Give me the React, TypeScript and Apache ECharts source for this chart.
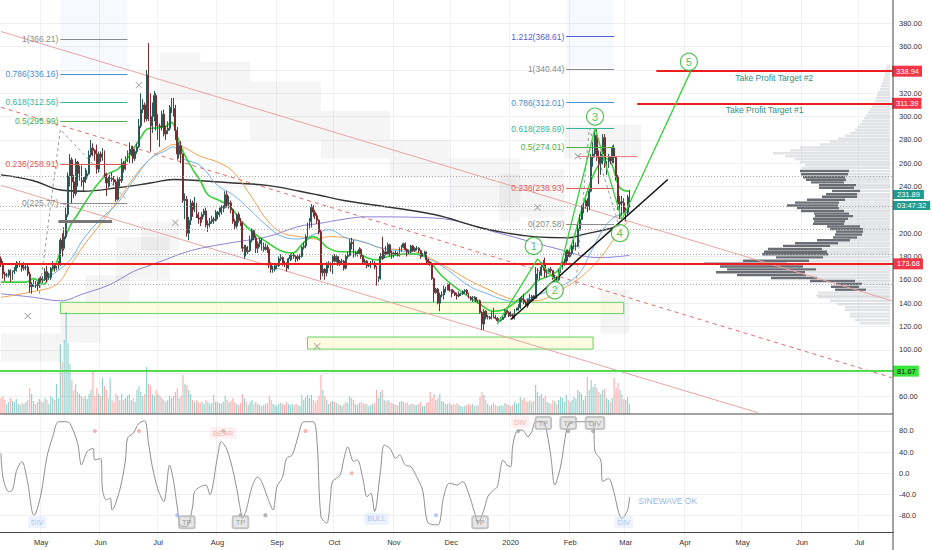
import React, { useEffect, useRef } from "react";
import * as echarts from "echarts";

const CHART_W = 932;
const CHART_H = 550;
const SCALE_W = 39; // width of the right price scale
const PANE_SPLIT = 414; // separator between price pane and oscillator
const FONT = "'Liberation Sans', Arial, sans-serif";

const MONTH_NAMES = ["Jan", "Feb", "Mar", "Apr", "May", "Jun", "Jul", "Aug", "Sep", "Oct", "Nov", "Dec"];

// ---- daily ETHUSD candles: [close, high, low, volume]; open = previous close
const firstOpen = 178;
const apr2019 = [[174,180,171,16],[165,176,161,18],[164,167,159,14],[164,166,162,10],[168,169,162,12],[161,169,158,16],[167,168,160,13],[168,171,165,12],[173,176,167,15],[173,175,170,10],[173,176,171,9],[170,174,167,11],[171,175,168,10],[171,174,168,12],[165,173,163,14],[154,167,149,26],[156,158,148,20],[157,160,154,13],[156,159,153,10],[155,158,151,12],[161,162,153,15]];
const may2019 = [[160,163,158,13],[160,163,157,12],[167,170,159,16],[162,172,158,14],[162,166,160,10],[170,171,160,18],[172,176,169,16],[170,173,167,14],[170,172,168,30],[173,176,169,16],[194,196,172,70],[187,200,180,52],[197,205,185,74],[216,222,195,102],[249,252,214,71],[263,268,240,50],[244,265,225,34],[234,250,230,24],[261,264,232,30],[251,262,240,22],[255,258,245,20],[245,258,240,18],[244,248,236,16],[248,256,243,18],[251,254,246,15],[267,271,250,20],[273,280,265,24],[271,277,266,44],[268,272,262,18],[255,276,251,26],[268,270,252,20]];
const jun2019 = [[265,270,261,18],[270,273,262,36],[251,271,248,28],[243,252,232,24],[247,249,239,16],[247,250,240,36],[246,252,244,14],[244,249,241,12],[229,246,227,20],[246,248,228,18],[245,248,240,14],[260,264,243,20],[255,262,252,14],[263,266,254,16],[268,271,261,18],[268,278,260,20],[272,275,266,14],[264,275,260,16],[270,272,262,12],[274,277,268,24],[292,298,273,28],[306,320,290,22],[310,315,303,18],[298,312,295,20],[336,340,296,47],[310,363,296,30],[292,320,270,28],[300,312,286,20],[318,322,296,18],[292,320,288,24]];
const jul2019 = [[292,302,280,20],[291,294,274,18],[302,305,288,16],[285,306,283,14],[288,292,280,12],[290,296,285,14],[308,310,288,18],[313,316,303,16],[307,316,300,18],[288,310,280,22],[268,291,263,26],[275,278,264,16],[268,279,260,18],[228,268,226,39],[229,234,212,30],[200,232,197,29],[211,214,194,24],[226,229,207,20],[220,228,214,14],[225,231,218,12],[216,226,213,14],[213,218,208,12],[212,214,206,11],[216,218,209,12],[219,221,214,10],[207,222,205,14],[208,211,201,12],[210,213,205,10],[212,215,208,11],[211,214,208,19],[218,220,210,12]];
const aug2019 = [[216,219,212,12],[218,222,214,11],[222,224,216,10],[222,224,218,12],[233,236,221,18],[225,236,222,14],[226,232,221,12],[220,228,217,13],[210,221,208,16],[206,212,203,12],[216,217,204,10],[211,218,209,9],[209,213,206,11],[187,210,184,20],[188,190,178,16],[184,190,180,12],[185,189,182,9],[194,198,184,12],[202,204,192,14],[196,203,194,10],[187,198,183,12],[191,193,183,10],[194,196,188,9],[190,196,185,8],[186,192,184,9],[188,191,185,10],[186,190,183,11],[173,188,170,18],[169,175,166,14],[169,172,166,10],[172,174,167,9]];
const sep2019 = [[172,174,169,8],[178,180,171,10],[179,182,176,11],[174,180,172,10],[173,176,171,9],[170,175,167,12],[178,179,169,10],[181,182,176,9],[181,183,177,10],[180,183,178,9],[178,181,175,10],[180,182,176,9],[180,182,177,8],[188,189,179,19],[189,192,186,14],[197,199,187,17],[207,209,196,19],[210,213,204,16],[222,225,205,19],[218,224,214,14],[215,220,212,12],[211,217,208,14],[201,212,199,18],[166,203,160,39],[169,173,163,24],[166,170,160,18],[174,175,163,14],[174,176,170,10],[170,175,167,12],[180,181,165,13]];
const oct2019 = [[176,182,175,12],[180,181,175,11],[174,180,172,10],[176,177,172,9],[176,178,173,8],[170,177,168,10],[180,182,169,12],[181,184,178,11],[192,195,180,18],[191,196,186,16],[181,194,179,14],[182,185,180,10],[183,185,180,9],[186,188,182,11],[180,187,178,12],[175,181,173,11],[176,178,174,10],[172,177,170,10],[173,174,171,8],[174,176,170,9],[174,177,173,10],[171,176,169,11],[161,172,155,24],[161,163,158,16],[180,183,160,22],[179,197,177,24],[184,186,178,14],[182,189,181,13],[190,192,181,14],[183,191,180,12],[182,185,178,11]];
const nov2019 = [[183,184,179,10],[182,185,181,9],[181,184,180,9],[185,188,180,12],[188,190,184,13],[191,192,187,12],[186,192,185,11],[184,187,180,12],[184,186,182,9],[189,190,183,10],[185,190,184,10],[187,188,184,9],[187,189,185,9],[185,188,183,10],[180,186,178,12],[182,183,180,8],[184,185,181,8],[177,184,174,11],[175,178,173,12],[174,176,172,22],[161,175,160,16],[149,162,141,20],[152,153,148,14],[140,153,139,16],[147,149,133,20],[147,150,145,13],[152,155,143,12],[151,154,149,10],[156,157,151,10],[151,157,150,11]];
const dec2019 = [[151,152,145,9],[149,152,148,10],[147,150,146,9],[146,149,143,11],[148,150,145,9],[148,149,146,8],[150,151,147,7],[151,152,148,8],[148,152,147,9],[145,149,144,10],[143,146,142,9],[145,146,141,10],[145,146,143,8],[142,145,141,8],[142,143,140,9],[132,143,131,17],[122,133,117,22],[133,135,117,19],[128,134,126,14],[128,130,126,10],[127,129,126,8],[132,133,126,9],[128,136,127,11],[127,130,126,9],[125,128,124,8],[125,127,124,8],[126,128,124,9],[128,129,126,8],[134,135,127,11],[132,135,130,10],[129,133,128,9]];
const jan2020 = [[130,133,128,8],[127,131,126,9],[134,135,126,12],[134,136,133,10],[136,139,134,11],[144,145,135,17],[143,146,141,14],[141,148,139,16],[138,142,137,13],[143,144,136,12],[142,148,141,14],[146,147,141,12],[144,147,142,13],[165,171,144,29],[166,170,160,22],[164,167,160,18],[171,175,163,20],[174,177,168,16],[167,179,162,18],[167,169,162,12],[169,170,165,11],[168,171,166,10],[162,168,160,14],[162,164,158,13],[160,163,158,10],[168,169,159,14],[170,172,166,17],[175,176,169,16],[175,178,172,12],[184,186,173,19],[180,186,176,14]];
const feb2020 = [[183,185,179,12],[189,190,181,14],[189,194,186,17],[189,192,185,15],[204,207,188,24],[212,216,202,22],[222,224,211,20],[223,226,217,14],[228,229,221,18],[223,230,218,37],[236,238,220,24],[265,268,235,34],[268,278,257,27],[284,290,265,30],[265,289,262,26],[260,271,242,22],[268,270,250,20],[282,285,259,24],[258,285,256,25],[258,262,250,16],[265,268,256,14],[262,266,259,12],[273,275,260,16],[265,276,260,36],[248,266,245,26],[225,250,220,31],[227,232,212,24],[226,232,215,20],[218,230,217,15]];
const mar2020 = [[218,222,210,14],[231,233,215,17],[231.89,237,222,10]];
const candleMonths = [apr2019, may2019, jun2019, jul2019, aug2019, sep2019, oct2019, nov2019, dec2019, jan2020, feb2020, mar2020];

// ---- moving averages, read as [dayIndex, price]
const maGreen = [[0,158],[13,158],[17,161],[22,156],[26,166],[29,175],[32,189],[36,206],[40,216],[45,229],[50,241],[55,250],[61,255],[66,264],[69,272],[73,282],[76,289],[79,290],[85,291],[89,295],[92,283],[95,270],[100,255],[104,245],[108,233],[114,228],[120,222],[125,211],[132,200],[139,192],[146,185],[152,183],[158,192],[163,197],[167,193],[170,188],[177,184],[184,184],[191,179],[196,177],[200,179],[210,182],[219,182],[224,175],[231,162],[241,149],[250,139],[257,133],[262,134],[267,139],[275,150],[280,159],[290,167],[297,187],[302,214],[306,236],[311,256],[316,264],[319,258],[323,239],[328,236]];
const maBlue = [[17,154],[35,175],[43,195],[52,212],[61,226],[69,245],[78,264],[85,270],[90,274],[95,264],[104,258],[113,241],[121,233],[130,220],[139,206],[147,197],[156,195],[165,200],[171,203],[180,196],[190,192],[199,187],[214,183],[228,174],[245,154],[254,148],[262,143],[270,141],[278,146],[290,153],[301,164],[307,181],[313,200],[318,211],[323,216],[328,218]];
const maOrange = [[0,145],[17,150],[29,156],[36,172],[43,189],[52,208],[61,228],[69,247],[78,264],[87,274],[90,276],[95,274],[104,266],[113,261],[121,253],[130,233],[139,211],[147,200],[156,197],[165,195],[171,197],[180,196],[190,192],[199,187],[214,185],[228,175],[245,159],[254,152],[262,146],[271,142],[278,142],[295,154],[309,172],[320,195],[327,210]];
const maPurple = [[0,148],[17,145],[31,142],[43,148],[57,156],[69,167],[78,172.5],[87,178],[95,183],[104,187],[121,192],[139,197],[156,206],[165,208],[179,212],[191,214],[226,213],[260,200],[287,188],[313,179],[328,181]];
const maBlack = [[0,250],[17,245],[31,237],[43,236],[61,239],[78,243],[90,246],[104,245],[121,243],[139,241],[156,236],[165,233],[179,228],[191,225],[226,216],[252,204],[278,197],[296,196],[304,199],[318,204],[323,207]];

// ---- drawings [dayIndex, price]
const channelUpper = [[0,373],[465,142]];
const channelMiddle = [[0,308],[465,76]];
const channelLower = [[0,241],[395,46]];
const trendLine = [[266,126],[348,246]];
const waveLine = [[259,122],[280,178],[290,158],[310,290],[324,211.5],[360,339]];
const waveLabels = [[278,189,"1"],[289,151,"2"],[310,300,"3"],[323,200,"4"],[359,347,"5"]];
const crossMarks = [[14,129],[72,327],[91,209],[165,103],[280,222],[301,266]];
const fibLeftConnector = [[20,148],[31,289],[66,228]];
const fibRightConnector = [[300,156],[307,290],[323,204]];
const fibLeft = { from: 31, to: 66, levels: [[1,366.21],[0.786,336.16],[0.618,312.56],[0.5,295.99],[0.236,258.91],[0,225.77]] };
const fibRight = { from: 295, to: 320, levels: [[1.212,368.61],[1,340.44],[0.786,312.01],[0.618,289.69],[0.5,274.01],[0.236,238.93],[0,207.58]] };
const supportLevel = 173.68;
const deepSupport = 81.67;
const takeProfits = [[332, 311.39, "Take Profit Target #1"], [342, 338.94, "Take Profit Target #2"]];
const lastPrice = 231.89;
const countdown = "03:47:32";
const dottedLevels = [248.6, 222.9, 203, 182.2, 156.6];
const shortRedLevel = [301, 332, 266];
const shortGrayLevel = [30, 58, 210];
const greenZones = [[31,325,140.7,131],[160,309,110.9,100.6]];
const cloudBoxes = [[83,104,355,314],[104,130,347,297],[130,167,330,280],[167,203,305,264],[203,234,280,247],[234,271,264,222],[271,294,255,214],[0,31,114,90],[31,52,139,106],[44,67,164,139],[60,88,197,160],[73,93,210,185],[313,328,152,114],[294,334,293,264],[260,271,251,210]];
const blueBands = [[31,66,400,338],[295,320,400,343]];
// axis labels hidden behind the coloured price boxes (as on the reference)
const coveredTicks = [340, 220, 80];

// ---- visible-range volume profile rows: [price, darkVolume, lightVolume]
const volumeProfile = [
  [343.5,0,3],[341,0,4],[338.5,0,5],[336,0,5],[333.5,0,6],[331,0,7],[328.5,0,8],[326,0,9],[323.5,0,10],[321,0,12],[318.5,0,13],[316,0,14],[313.5,0,15],[311,0,16],[308.5,0,18],[306,0,20],[303.5,0,22],[301,0,24],[298.5,0,26],[296,0,28],[293.5,0,30],[291,0,32],[288.5,0,35],[286,0,40],[283.5,0,45],[281,0,52],[278.5,0,60],[276,0,70],[273.5,0,90],[271,0,100],[268.5,0,117],[266,0,105],[263.5,0,95],[261,0,90],[258.5,0,85],[256,0,88],
  [253.3,49,41],[250.5,47,42],[248,42,45],[245.8,40,44],[243.6,33,46],[241.2,37,34],[238.9,35,36],[236.2,28,30],[233.4,31,33],[231.2,35,33],[228.7,38,45],[226.2,44,51],[223.7,51,52],[221.5,42,51],[219,43,46],[216.8,35,41],[214.6,38,37],[212.4,35,42],[210.1,31,45],[208,31,46],[205.7,33,30],[203.5,33,27],[201.3,27,27],[198.8,27,28],[196.3,24,33],[193.9,33,40],[191.4,43,52],[189.1,47,60],[186.4,54,68],[184.1,63,63],[181.9,66,62],[179.2,47,67],[176.4,66,81],[173.9,83,103],[171.4,83,87],[168.9,89,74],[166.5,89,85],[164,69,84],[161.5,46,73],[159,45,35],[156.5,26,28],[154,28,31],[151.5,31,24],
  [149,0,72],[146.5,0,74],[144.9,0,72],[142,0,60],[139.3,0,53],[136.5,0,45],[134,0,45],[131,0,40],[128.5,0,40],[125.5,0,35],[122.7,0,30]
];

// ---- oscillator (sine-wave style), read as [dayIndex, value]
const oscillator = [[0,38],[1,-7],[4,-35],[6,-32],[8,3],[10,19],[11,22],[14,-19],[17,-79],[18,-78],[21,-38],[24,31],[27,69],[30,97.6],[34,97.6],[36,94.5],[40,57],[42,15.5],[45,41],[48,47],[49,25],[52,28],[53,-32],[55,-51],[57,-47],[58,-70],[62,-32],[65,25],[66,66],[69,75.6],[72,94.5],[75,99.5],[77,57],[79,12],[82,-32],[85,-54],[88,15.5],[90,-13],[92,-64],[94,-101],[97,-101],[100,-64],[101,-35],[104,-26],[107,-22.5],[109,-41],[113,31],[115,60],[118,44],[121,6],[123,-29],[125,-70],[126,-86],[128,-70],[131,-26],[134,-7],[136,-16],[139,-45],[142,-70],[144,-26],[147,-7],[149,28],[152,34.5],[155,69],[158,97.6],[163,97.6],[165,57],[167,-83],[170,-95],[172,-45],[173,-16],[177,-3.5],[179,28],[181,50],[184,22],[186,25],[189,-13],[191,-45],[193,-38],[195,-73],[198,3],[200,53.5],[203,47],[206,28],[208,34.5],[211,15.5],[214,12],[217,-7],[220,-32],[223,-95],[228,-98],[231,-45],[234,-19],[238,-22.5],[241,-16],[244,-38],[247,-73],[249,-95],[252,-70],[254,-45],[257,-32],[259,-26],[262,25],[264,15.5],[266,12],[267,50],[269,78.7],[272,82],[275,69],[277,78.7],[279,97.6],[283,97.6],[285,75.6],[287,31],[289,-22.5],[292,12],[294,57],[296,91.4],[300,97.6],[309,97.6],[310,41],[313,25],[314,-16],[317,-10],[320,-38],[322,-70],[324,-86],[327,-70],[328,-45]];
const oscTags = [[19,-93,"DIV","blue"],[116,76,"BEAR","pink"],[196,-87,"BULL","blue"],[97,-93,"TP","gray"],[125,-93,"TP","gray"],[250,-93,"TP","gray"],[271,97,"DIV","pink"],[283,95,"TP","gray"],[296,95,"TP","gray"],[310,95,"DIV","gray"],[325,-93,"DIV","blue"],[348,-52,"SINEWAVE OK","text"]];
const oscDots = [[49,80,"pink"],[72,80,"pink"],[159,80,"pink"],[92,-80,"blue"],[227,-80,"blue"],[125,-80,"gray"],[138,-80,"gray"],[116,80,"gray"],[270,80,"gray"],[296,80,"gray"],[309,80,"gray"],[183,0,"pink"]];

// ---------------------------------------------------------------------------
const categories: string[] = [];
for (let t = Date.UTC(2019, 3, 10); t <= Date.UTC(2020, 6, 18); t += 86400000) {
  const d = new Date(t);
  categories.push(
    d.getUTCFullYear() + "-" + String(d.getUTCMonth() + 1).padStart(2, "0") + "-" + String(d.getUTCDate()).padStart(2, "0")
  );
}
const isMonthStart = (_i: number, v: string) => String(v).endsWith("-01");
const monthLabel = (v: string) => {
  const [y, m] = String(v).split("-");
  return m === "01" ? y : MONTH_NAMES[Number(m) - 1];
};

const FIB_COLORS: Record<string, string> = {
  "1.212": "#5a5ad8", "1": "#8b8b8b", "0.786": "#4a8fd0", "0.618": "#35b598",
  "0.5": "#4caf50", "0.236": "#e05a5a", "0": "#8b8b8b",
};
const TAG_STYLES: Record<string, any> = {
  blue: { color: "#9ab6ee", bg: "rgba(205,220,255,0.45)", border: "transparent" },
  pink: { color: "#f19c9c", bg: "rgba(255,215,215,0.45)", border: "transparent" },
  gray: { color: "#8a8a8a", bg: "rgba(200,200,200,0.55)", border: "#b5b5b5" },
  text: { color: "#7aa3e8", bg: "transparent", border: "transparent" },
};
const DOT_COLORS: Record<string, string> = { pink: "#f4a3a3", blue: "#a9b8f4", gray: "#a0a0a0" };
const HIDDEN = "rgba(0,0,0,0)";

function buildOption() {
  const rows = candleMonths.flat();
  let prev = firstOpen;
  const candles = rows.map((r) => {
    const o = prev;
    prev = r[0];
    return [o, r[0], r[2], r[1]];
  });
  const volumes = rows.map((r, i) => ({
    value: [i, r[3]],
    itemStyle: { color: r[0] >= candles[i][0] ? "rgba(38,166,154,0.5)" : "rgba(239,83,80,0.45)" },
  }));

  const seg = (a: number, b: number, p: number, lineStyle: any, label: any = { show: false }) => [
    { coord: [a, p], lineStyle, label },
    { coord: [b, p] },
  ];

  const fibLines = [fibLeft, fibRight].flatMap((f) =>
    f.levels.map(([r, p]) => {
      const c = FIB_COLORS[String(r)];
      return seg(f.from, f.to, p, { color: c, width: 1, type: "solid" }, {
        show: true, position: "start", distance: 2, formatter: r + "(" + p.toFixed(2) + ")", color: c, fontSize: 8.5,
      });
    })
  );

  const axisBox = (bg: string, fg: string) => ({
    show: true, position: "end", distance: 0, backgroundColor: bg, color: fg, fontSize: 7.5,
    padding: [2, 3, 1, 4], fontFamily: FONT,
  });

  const line = (data: any, color: string, width: number, extra: any = {}) => ({
    type: "line", data, xAxisIndex: 0, yAxisIndex: 0, symbol: "none", silent: true, clip: true,
    lineStyle: { color, width }, z: 3, ...extra,
  });

  const grid0Top = 10 - 20 * 1.205; // price 400
  const grid0Bottom = 10 + 340 * 1.205; // price 40
  const oscTop = 431 - 40 * 0.527; // value 120
  const oscBottom = 515.3 + 40 * 0.527; // value -120
  const plotRight = CHART_W - SCALE_W;

  return {
    animation: false,
    backgroundColor: "#ffffff",
    textStyle: { fontFamily: FONT },
    grid: [
      { left: 0, right: SCALE_W, top: grid0Top, height: grid0Bottom - grid0Top },
      { left: 0, right: SCALE_W, top: 300, height: PANE_SPLIT - 300 },
      { left: 0, right: SCALE_W, top: oscTop, height: oscBottom - oscTop },
    ],
    xAxis: [
      {
        type: "category", gridIndex: 0, data: categories, boundaryGap: true,
        axisLine: { show: false }, axisTick: { show: false }, axisLabel: { show: false },
        splitLine: { show: true, interval: isMonthStart, lineStyle: { color: "#eef0f4", width: 1 } },
      },
      { type: "value", gridIndex: 0, min: 0, max: plotRight, inverse: true, show: false, position: "top" },
      { type: "category", gridIndex: 1, data: categories, boundaryGap: true, show: false },
      {
        type: "category", gridIndex: 2, data: categories, boundaryGap: true, offset: -(oscBottom - 532),
        axisLine: { show: true, onZero: false, lineStyle: { color: "#4a4a4a", width: 1 } }, axisTick: { show: false },
        axisLabel: { interval: isMonthStart, formatter: monthLabel, color: "#333", fontSize: 7.5, margin: 6 },
        splitLine: { show: true, interval: isMonthStart, lineStyle: { color: "#eef0f4", width: 1 } },
      },
    ],
    yAxis: [
      {
        type: "value", gridIndex: 0, position: "right", min: 40, max: 400, interval: 20,
        axisLine: { show: false }, axisTick: { show: false },
        axisLabel: {
          color: "#333", fontSize: 7.5, margin: 6, showMinLabel: false, showMaxLabel: false,
          formatter: (v: number) => (coveredTicks.includes(v) ? "" : v.toFixed(2)),
        },
        splitLine: { show: true, showMinLine: false, showMaxLine: false, lineStyle: { color: "#eef0f4", width: 1 } },
      },
      { type: "value", gridIndex: 1, min: 0, max: PANE_SPLIT - 300, show: false },
      {
        type: "value", gridIndex: 2, position: "right", min: -120, max: 120, interval: 40,
        axisLine: { show: false }, axisTick: { show: false },
        axisLabel: { color: "#333", fontSize: 7.5, margin: 6, showMinLabel: false, showMaxLabel: false, formatter: (v: number) => v.toFixed(1) },
        splitLine: { show: true, showMinLine: false, showMaxLine: false, lineStyle: { color: "#eef0f4", width: 1 } },
      },
    ],
    graphic: [
      { type: "line", shape: { x1: 0, y1: PANE_SPLIT, x2: plotRight, y2: PANE_SPLIT }, style: { stroke: "#4a4a4a", lineWidth: 1.2 }, z: 100, silent: true },
      { type: "line", shape: { x1: plotRight, y1: 0, x2: plotRight, y2: CHART_H }, style: { stroke: "#4a4a4a", lineWidth: 1 }, z: 100, silent: true },
    ],
    series: [
      // background zones
      {
        type: "line", data: [], xAxisIndex: 0, yAxisIndex: 0, z: 1, silent: true,
        markArea: {
          silent: true,
          data: [
            ...cloudBoxes.map(([a, b, t, btm]) => [
              { coord: [a, t], itemStyle: { color: "rgba(120,120,120,0.07)" } },
              { coord: [b, btm] },
            ]),
            ...blueBands.map(([a, b, t, btm]) => [
              { coord: [a, t], itemStyle: { color: "rgba(110,150,255,0.06)" } },
              { coord: [b, btm] },
            ]),
            ...greenZones.map(([a, b, t, btm]) => [
              { coord: [a, t], itemStyle: { color: "rgba(255,247,200,0.55)", borderColor: "#62d262", borderWidth: 1 } },
              { coord: [b, btm] },
            ]),
          ],
        },
      },
      // volume profile
      {
        type: "custom", xAxisIndex: 1, yAxisIndex: 0, data: volumeProfile, z: 2, silent: true,
        encode: { x: 1, y: 0 },
        renderItem: (_p: any, api: any) => {
          const price = api.value(0);
          const dark = api.value(1);
          const light = api.value(2);
          const gap = 3;
          const a = api.coord([gap, price]);
          const b = api.coord([gap + light, price]);
          const c = api.coord([gap + light + dark, price]);
          const h = 2.4;
          return {
            type: "group",
            children: [
              { type: "rect", shape: { x: b[0], y: a[1] - h / 2, width: a[0] - b[0], height: h }, style: { fill: "rgba(190,193,200,0.45)" } },
              { type: "rect", shape: { x: c[0], y: a[1] - h / 2, width: b[0] - c[0], height: h }, style: { fill: "#6a6e74" } },
            ],
          };
        },
      },
      // channel
      line(channelUpper, "#eaa3a3", 1, { z: 2 }),
      line(channelLower, "#eaa3a3", 1, { z: 2 }),
      line(channelMiddle, "#e06c6c", 1, { z: 2, lineStyle: { color: "#e06c6c", width: 1, type: [4, 4] } }),
      // moving averages
      line(maPurple, "#8f82d8", 1, { smooth: 0.4 }),
      line(maBlack, "#333333", 1.4, { smooth: 0.4 }),
      line(maOrange, "#f5a04c", 1, { smooth: 0.4 }),
      line(maBlue, "#6fb2ee", 1, { smooth: 0.4 }),
      line(maGreen, "#37d037", 1.6, { smooth: 0.4 }),
      // fib connectors
      line(fibLeftConnector, "#9a9a9a", 1, { lineStyle: { color: "#9a9a9a", width: 1, type: [3, 3] } }),
      line(fibRightConnector, "#9a9a9a", 1, { lineStyle: { color: "#9a9a9a", width: 1, type: [3, 3] } }),
      // candles
      {
        type: "candlestick", xAxisIndex: 0, yAxisIndex: 0, data: candles, barWidth: "70%", z: 4, silent: true,
        itemStyle: { color: "#285a55", color0: "#7a2c30", borderColor: "#285a55", borderColor0: "#7a2c30", borderWidth: 1 },
      },
      // annotations: levels & fibs
      {
        type: "line", data: [], xAxisIndex: 0, yAxisIndex: 0, z: 6, silent: true,
        markLine: {
          silent: true, symbol: "none",
          label: { show: false },
          data: [
            ...dottedLevels.map((p) => ({ yAxis: p, lineStyle: { color: "#a8a8a8", width: 1, type: [1, 2] }, label: { show: false } })),
            ...fibLines,
            seg(shortRedLevel[0], shortRedLevel[1], shortRedLevel[2], { color: "#f08080", width: 1.2, type: "solid" }),
            seg(shortGrayLevel[0], shortGrayLevel[1], shortGrayLevel[2], { color: "#777", width: 3, type: "solid" }),
            { yAxis: supportLevel, lineStyle: { color: "#ee1c1c", width: 2, type: "solid" }, label: { ...axisBox("#f23645", "#fff"), formatter: supportLevel.toFixed(2) } },
            { yAxis: deepSupport, lineStyle: { color: "#4fdc4f", width: 2, type: "solid" }, label: { ...axisBox("#39e639", "#111"), formatter: deepSupport.toFixed(2) } },
            ...takeProfits.map(([a, p]) => seg(a as number, categories.length - 1, p as number, { color: "#ee1c1c", width: 2, type: "solid" }, { ...axisBox("#f23645", "#fff"), formatter: (p as number).toFixed(2) })),
            ...takeProfits.map(([a, p, text]) => seg(a as number, categories.length - 1, p as number, { color: HIDDEN, width: 1 }, {
              show: true, position: "insideMiddleBottom", distance: 2, formatter: text, color: "#2f8f87", fontSize: 8.5,
            })),
            {
              yAxis: lastPrice, lineStyle: { color: HIDDEN, width: 1 },
              label: {
                show: true, position: "end", distance: 0, offset: [0, 4],
                formatter: "{a|" + lastPrice.toFixed(2) + "}\n{b|" + countdown + "}",
                rich: {
                  a: { backgroundColor: "#1f9b8f", color: "#fff", fontSize: 7.5, lineHeight: 11, padding: [1, 4, 0, 4], fontFamily: FONT },
                  b: { backgroundColor: "#1f9b8f", color: "#fff", fontSize: 7.5, lineHeight: 11, padding: [1, 4, 0, 4], fontFamily: FONT },
                },
              },
            },
          ],
        },
      },
      // trend line and Elliott wave
      line(trendLine, "#111111", 1.5, { z: 7 }),
      line(waveLine, "#3ad23a", 1.3, { z: 7 }),
      {
        type: "scatter", xAxisIndex: 0, yAxisIndex: 0, z: 8, silent: true,
        data: waveLabels.map(([i, p, t]) => ({ value: [i, p], label: { formatter: t } })),
        symbol: "circle", symbolSize: 17,
        itemStyle: { color: "rgba(255,255,255,0.85)", borderColor: "#2db32d", borderWidth: 1.2 },
        label: { show: true, position: "inside", color: "#2db32d", fontSize: 11 },
      },
      {
        type: "scatter", xAxisIndex: 0, yAxisIndex: 0, z: 8, silent: true, data: crossMarks,
        symbol: "path://M1,0L5,4L9,0L10,1L6,5L10,9L9,10L5,6L1,10L0,9L4,5L0,1Z", symbolSize: 7,
        itemStyle: { color: "#9a9a9a" },
      },
      // volume
      {
        type: "bar", xAxisIndex: 2, yAxisIndex: 1, data: volumes, barWidth: "60%", z: 1, silent: true,
      },
      // oscillator
      {
        type: "line", xAxisIndex: 3, yAxisIndex: 2, data: oscillator, symbol: "none", smooth: 0.3, silent: true,
        lineStyle: { color: "#8f8f8f", width: 1 }, z: 3,
      },
      {
        type: "scatter", xAxisIndex: 3, yAxisIndex: 2, z: 4, silent: true,
        data: oscDots.map(([i, v, k]) => ({ value: [i, v], itemStyle: { color: DOT_COLORS[k as string] } })),
        symbol: "circle", symbolSize: 4,
      },
      {
        type: "scatter", xAxisIndex: 3, yAxisIndex: 2, z: 5, silent: true, symbolSize: 1,
        itemStyle: { color: HIDDEN },
        data: oscTags.map(([i, v, t, k]) => {
          const s = TAG_STYLES[k as string];
          return {
            value: [i, v],
            label: {
              show: true, position: "inside", formatter: t, color: s.color, backgroundColor: s.bg,
              borderColor: s.border, borderWidth: 1, borderRadius: 2, padding: [2, 3],
              fontSize: k === "text" ? 8.5 : 7.5,
            },
          };
        }),
      },
    ],
  };
}

export default function App() {
  const ref = useRef<HTMLDivElement>(null);
  useEffect(() => {
    document.body.style.margin = "0";
    if (!ref.current) return;
    const chart = echarts.init(ref.current, undefined, { renderer: "svg" });
    chart.setOption(buildOption() as any);
    return () => chart.dispose();
  }, []);
  return <div ref={ref} style={{ width: CHART_W, height: CHART_H }} />;
}
